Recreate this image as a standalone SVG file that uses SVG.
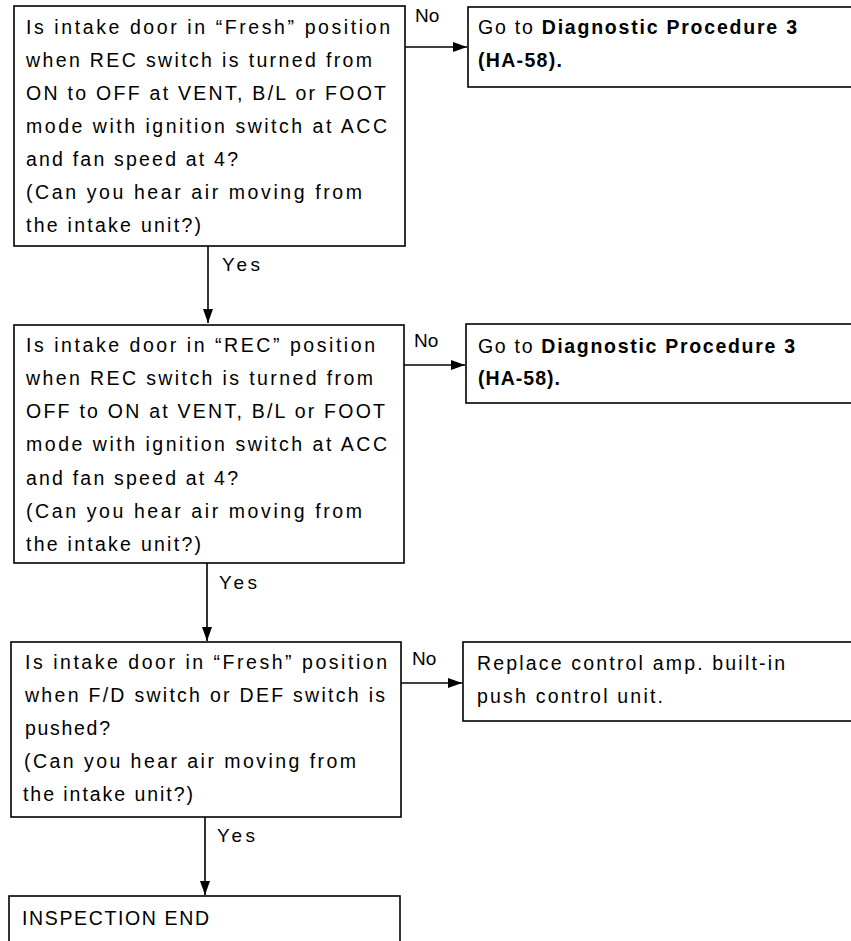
<svg xmlns="http://www.w3.org/2000/svg" width="851" height="941" viewBox="0 0 851 941">
  <style>
    .box { fill: #fff; stroke: #000; stroke-width: 1.6; }
    .t { font-family: "Liberation Sans", Arial, sans-serif; font-size: 19.5px; fill: #000; }
    .lbl { font-family: "Liberation Sans", Arial, sans-serif; font-size: 19px; fill: #000; }
    .b { font-weight: bold; }
    .wire { stroke: #000; stroke-width: 1.6; fill: none; }
  </style>
  <defs>
    <marker id="arrow" viewBox="0 0 14 10" refX="14" refY="5" markerWidth="14" markerHeight="10" markerUnits="userSpaceOnUse" orient="auto">
      <path d="M0,0 L14,5 L0,10 Z" fill="#000"/>
    </marker>
  </defs>
  <rect width="851" height="941" fill="#fff"/>

  <!-- connectors -->
  <g id="connectors">
    <line class="wire" x1="405" y1="47" x2="467" y2="47" marker-end="url(#arrow)"/>
    <text class="lbl" x="415" y="22">No</text>
    <line class="wire" x1="208" y1="246" x2="208" y2="323" marker-end="url(#arrow)"/>
    <text class="lbl" x="222" y="271" textLength="38" lengthAdjust="spacing">Yes</text>

    <line class="wire" x1="404" y1="365" x2="465" y2="365" marker-end="url(#arrow)"/>
    <text class="lbl" x="414" y="347">No</text>
    <line class="wire" x1="207" y1="563" x2="207" y2="641" marker-end="url(#arrow)"/>
    <text class="lbl" x="219" y="589" textLength="38" lengthAdjust="spacing">Yes</text>

    <line class="wire" x1="401" y1="683" x2="462" y2="683" marker-end="url(#arrow)"/>
    <text class="lbl" x="412" y="665">No</text>
    <line class="wire" x1="205" y1="817" x2="205" y2="895" marker-end="url(#arrow)"/>
    <text class="lbl" x="217" y="842" textLength="38" lengthAdjust="spacing">Yes</text>
  </g>

  <!-- step 1 -->
  <g id="q1">
    <rect class="box" x="14" y="6" width="391" height="240"/>
    <text class="t" x="26" y="34" textLength="364" lengthAdjust="spacing">Is intake door in “Fresh” position</text>
    <text class="t" x="26" y="67" textLength="346" lengthAdjust="spacing">when REC switch is turned from</text>
    <text class="t" x="26" y="100" textLength="360" lengthAdjust="spacing">ON to OFF at VENT, B/L or FOOT</text>
    <text class="t" x="26" y="133" textLength="361" lengthAdjust="spacing">mode with ignition switch at ACC</text>
    <text class="t" x="26" y="166" textLength="212" lengthAdjust="spacing">and fan speed at 4?</text>
    <text class="t" x="26" y="199" textLength="336" lengthAdjust="spacing">(Can you hear air moving from</text>
    <text class="t" x="26" y="232" textLength="175" lengthAdjust="spacing">the intake unit?)</text>
  </g>
  <g id="r1">
    <rect class="box" x="468" y="7" width="392" height="80"/>
    <text class="t" x="478" y="34" textLength="319" lengthAdjust="spacing">Go to <tspan class="b">Diagnostic Procedure 3</tspan></text>
    <text class="t b" x="478" y="67" textLength="84" lengthAdjust="spacing">(HA-58).</text>
  </g>

  <!-- step 2 -->
  <g id="q2">
    <rect class="box" x="14" y="325" width="390" height="238"/>
    <text class="t" x="26" y="352" textLength="349" lengthAdjust="spacing">Is intake door in “REC” position</text>
    <text class="t" x="26" y="385" textLength="347" lengthAdjust="spacing">when REC switch is turned from</text>
    <text class="t" x="26" y="418" textLength="359" lengthAdjust="spacing">OFF to ON at VENT, B/L or FOOT</text>
    <text class="t" x="26" y="451" textLength="361" lengthAdjust="spacing">mode with ignition switch at ACC</text>
    <text class="t" x="26" y="485" textLength="212" lengthAdjust="spacing">and fan speed at 4?</text>
    <text class="t" x="26" y="518" textLength="336" lengthAdjust="spacing">(Can you hear air moving from</text>
    <text class="t" x="26" y="551" textLength="175" lengthAdjust="spacing">the intake unit?)</text>
  </g>
  <g id="r2">
    <rect class="box" x="466" y="324" width="394" height="79"/>
    <text class="t" x="478" y="353" textLength="317" lengthAdjust="spacing">Go to <tspan class="b">Diagnostic Procedure 3</tspan></text>
    <text class="t b" x="478" y="385" textLength="82" lengthAdjust="spacing">(HA-58).</text>
  </g>

  <!-- step 3 -->
  <g id="q3">
    <rect class="box" x="11" y="642" width="390" height="175"/>
    <text class="t" x="25" y="669" textLength="362" lengthAdjust="spacing">Is intake door in “Fresh” position</text>
    <text class="t" x="25" y="702" textLength="360" lengthAdjust="spacing">when F/D switch or DEF switch is</text>
    <text class="t" x="25" y="735" textLength="85" lengthAdjust="spacing">pushed?</text>
    <text class="t" x="24" y="768" textLength="332" lengthAdjust="spacing">(Can you hear air moving from</text>
    <text class="t" x="23" y="801" textLength="170" lengthAdjust="spacing">the intake unit?)</text>
  </g>
  <g id="r3">
    <rect class="box" x="463" y="642" width="397" height="79"/>
    <text class="t" x="477" y="670" textLength="308" lengthAdjust="spacing">Replace control amp. built-in</text>
    <text class="t" x="477" y="703" textLength="186" lengthAdjust="spacing">push control unit.</text>
  </g>

  <!-- end -->
  <g id="end">
    <rect class="box" x="9" y="896" width="391" height="60"/>
    <text class="t" x="22" y="925" textLength="187" lengthAdjust="spacing">INSPECTION END</text>
  </g>
</svg>
